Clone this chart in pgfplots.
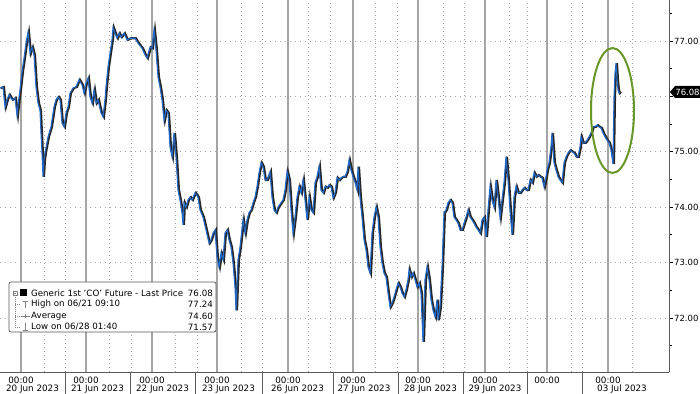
\documentclass[border=0pt]{standalone}
\usepackage{pgfplots}
\pgfplotsset{compat=1.18}
\usepackage{pgfplotstable}
\usepackage{fontspec}
\setmainfont{DejaVu Sans}
\definecolor{bbblue}{RGB}{35,105,200}
\definecolor{gridgray}{RGB}{165,165,165}
\definecolor{axisgray}{RGB}{90,90,90}
\definecolor{ellgreen}{RGB}{105,150,40}
\pgfplotstableread{
x y
0 76.15
3 76.17
5 75.81
7 75.94
9 76.03
12 75.94
15 75.97
17 75.66
18 75.84
20 76.12
22 76.44
24 76.69
26 76.96
28 77.16
30 76.78
32 76.89
34 76.75
36 76.17
38 75.88
40 75.75
41 75.34
42 74.98
43 74.55
44 74.85
45 74.98
48 75.27
51 75.45
54 75.81
56 75.94
58 75.99
60 75.94
62 75.52
64 75.45
66 75.70
68 75.81
70 76.06
73 76.15
76 76.17
79 76.30
82 76.21
84 76.06
86 76.24
88 76.33
90 75.99
92 75.88
94 76.12
96 75.88
98 75.94
101 75.70
103 75.63
105 75.94
106 76.17
108 76.53
110 76.78
112 77.02
113 77.24
115 77.14
117 77.05
119 77.14
121 77.07
124 77.14
127 77.02
130 77.05
135 77.05
138 76.96
142 76.87
145 76.75
147 76.69
150 76.89
152 76.87
154 77.20
156 76.84
158 76.35
160 76.17
162 75.94
164 75.57
166 75.75
168 75.70
170 75.09
172 74.91
174 75.34
176 74.91
178 74.31
180 74.13
182 73.90
183 73.68
184 74.08
186 74.00
188 74.13
190 74.18
192 74.13
195 74.26
198 74.18
200 73.95
203 73.82
206 73.59
209 73.35
211 73.41
213 73.53
215 73.59
217 73.10
219 72.92
221 73.17
223 73.05
225 73.53
227 73.59
229 73.41
231 73.28
233 72.99
235 72.56
236 72.14
238 73.05
240 73.28
243 73.77
245 73.53
247 73.77
249 73.90
251 73.95
253 74.08
255 74.18
257 74.37
259 74.62
261 74.80
263 74.73
265 74.49
267 74.49
270 74.64
272 74.18
274 73.95
276 73.90
278 74.00
281 74.08
283 74.13
285 74.31
287 74.64
289 74.49
291 73.95
293 73.53
295 73.82
297 74.18
299 74.37
301 74.26
303 74.49
305 74.13
307 73.77
309 74.18
311 73.95
313 73.90
315 74.44
317 74.55
319 74.73
321 74.31
323 74.26
325 74.37
327 74.35
329 74.40
331 74.37
333 74.17
335 74.26
337 74.53
339 74.49
341 74.53
343 74.55
345 74.55
347 74.64
349 74.85
351 74.67
353 74.55
355 74.45
357 74.31
358 74.73
360 74.18
362 73.82
364 73.41
366 73.23
368 72.92
370 72.81
372 73.53
374 73.82
376 74.00
378 73.82
380 73.28
382 72.99
384 72.81
386 72.74
388 72.45
390 72.20
392 72.27
394 72.38
396 72.51
398 72.63
400 72.56
402 72.45
404 72.38
406 72.51
408 72.69
409 72.87
411 72.74
413 72.81
415 72.69
417 72.56
419 72.63
421 72.45
423 71.57
425 72.69
427 72.92
429 72.69
431 72.33
433 72.14
435 72.02
437 72.33
438 71.96
440 72.20
442 72.92
443 73.41
444 73.90
446 73.95
448 74.08
450 74.13
452 74.08
454 73.82
456 73.77
458 73.71
460 73.59
462 73.59
464 73.71
466 73.82
468 73.95
470 73.82
472 73.77
474 73.71
476 73.64
478 73.59
480 73.53
482 73.77
484 73.82
486 73.46
488 73.95
490 74.37
492 74.13
494 74.00
496 74.49
498 74.18
500 73.82
502 74.13
504 74.44
506 74.91
508 74.49
510 73.95
512 73.50
514 74.18
516 74.37
518 74.26
520 74.26
522 74.31
524 74.35
526 74.31
528 74.31
530 74.49
532 74.44
534 74.62
536 74.55
538 74.58
540 74.55
542 74.53
544 74.37
546 74.55
547 74.67
549 74.80
551 75.09
552 75.34
554 74.80
556 74.67
558 74.55
560 74.49
562 74.44
564 74.80
566 74.91
568 74.98
570 75.03
572 75.00
574 74.98
576 74.91
578 74.91
580 75.09
581 75.27
583 75.16
585 75.16
587 75.21
589 75.27
591 75.34
593 75.45
595 75.45
597 75.48
599 75.45
601 75.43
603 75.34
605 75.27
607 75.21
609 75.16
611 75.03
613 74.78
614 75.99
615 76.42
616 76.60
617 76.30
618 76.12
619 76.06
620 76.08
}\prices
\begin{document}
\begin{tikzpicture}
\useasboundingbox (0bp,0bp) rectangle (700bp,394bp);
\begin{axis}[
  at={(0bp,22bp)}, anchor=south west,
  scale only axis, width=669bp, height=372bp,
  xmin=0, xmax=669, ymin=71.025, ymax=77.74,
  axis x line*=bottom, axis y line*=right,
  axis line style={axisgray, line width=0.8bp},
  ytick={72,73,74,75,76,77},
  yticklabels={72.00,73.00,74.00,75.00,,77.00},
  minor ytick={71.5,72.5,73.5,74.5,75.5,76.5,77.5},
  tick align=outside,
  major tick length=4bp, minor tick length=3bp,
  tick style={black, line width=0.8bp},
  yticklabel pos=right,
  yticklabel style={font=\fontsize{8.5}{10}\selectfont, anchor=west, inner sep=0pt, xshift=1bp},
  ymajorgrids=true,
  major grid style={gridgray, line width=0.7bp, dash pattern=on 1bp off 4bp},
  xtick={21,86,152,217,288,353,418,485,547,608},
  xticklabels={00:00,00:00,00:00,00:00,00:00,00:00,00:00,00:00,00:00,00:00},
  x tick style={draw=none},
  xticklabel style={font=\fontsize{8.8}{10}\selectfont, anchor=north, inner sep=0pt, yshift=-1bp},
  extra x ticks={32.5,97.5,162.5,228.5,297.5,364,430.5,495,622},
  extra x tick labels={20 Jun 2023,21 Jun 2023,22 Jun 2023,23 Jun 2023,26 Jun 2023,27 Jun 2023,28 Jun 2023,29 Jun 2023,03 Jul 2023},
  extra x tick style={xticklabel style={yshift=-11.5bp}, major tick length=0pt, grid=none},
  clip=false,
]
% vertical grid lines
\pgfplotsinvokeforeach{21,86,152,217,288,353,418,485,547,608}{
  \draw[gridgray, line width=1.2bp] (#1,71.025) -- (#1,77.74);
}
\pgfplotsinvokeforeach{44,65,109,131,175,197,241,262,308,330,375,397,443,464,509,527,571,582,632}{
  \draw[gridgray, line width=0.7bp, dash pattern=on 1bp off 3bp] (#1,71.025) -- (#1,77.74);
}
\addplot[black!85, line width=2.1bp, line join=miter, forget plot] table[x expr=\thisrow{x}+1, y=y]{\prices};
\addplot[bbblue, line width=1.1bp, line join=miter, forget plot] table[x=x, y=y]{\prices};
\end{axis}
\begin{scope}[x=1bp,y=1bp]
% separators in date band
\foreach \s in {65,130,195,262,333,398,463,527,582}{
  \draw[axisgray, line width=0.7bp] (\s,22) -- (\s,0);
}
% last price tag
\fill[black] (670,302) -- (675,308) -- (700,308) -- (700,296) -- (675,296) -- cycle;
\node[white, font=\fontsize{8.5}{10}\selectfont, inner sep=0pt] at (687.5,302) {76.08};
% ellipse
\draw[ellgreen, line width=2bp] (612.5,283.5) ellipse [x radius=21.5, y radius=62.5];
% legend
\draw[axisgray, fill=white, line width=0.7bp, rounded corners=2] (9,112) rectangle (216,62);
\draw[gray, line width=0.5bp] (13,99) rectangle (17,103);
\draw[gray, line width=0.5bp] (14,101) -- (16,101);
\fill[black] (20,97.5) rectangle (27,104.5);
\draw[gray, line width=0.5bp, dash pattern=on 1bp off 1bp] (15,99) -- (15,67) -- (20,67);
\draw[gray, line width=0.5bp, dash pattern=on 1bp off 1bp] (15,89.5) -- (20,89.5);
\draw[gray, line width=0.5bp, dash pattern=on 1bp off 1bp] (15,78) -- (20,78);
\draw[gray, line width=0.7bp] (22.5,93) -- (27.5,93) (25,93) -- (25,86);
\draw[gray, line width=0.7bp] (20.5,78) -- (29.5,78) (25,76) -- (25,80);
\draw[gray, line width=0.7bp] (25,71) -- (25,64) (22.5,64) -- (27.5,64);
\begin{scope}[every node/.style={font=\fontsize{8.7}{10}\selectfont, inner sep=0pt}]
\node[anchor=west] at (31,101) {Generic 1st 'CO' Future - Last Price};
\node[anchor=west] at (31,89.5) {High on 06/21 09:10};
\node[anchor=west] at (31,78) {Average};
\node[anchor=west] at (31,67) {Low on 06/28 01:40};
\node[anchor=east] at (213,101) {76.08};
\node[anchor=east] at (213,89.5) {77.24};
\node[anchor=east] at (213,78) {74.60};
\node[anchor=east] at (213,67) {71.57};
\end{scope}
\end{scope}
\end{tikzpicture}
\end{document}
